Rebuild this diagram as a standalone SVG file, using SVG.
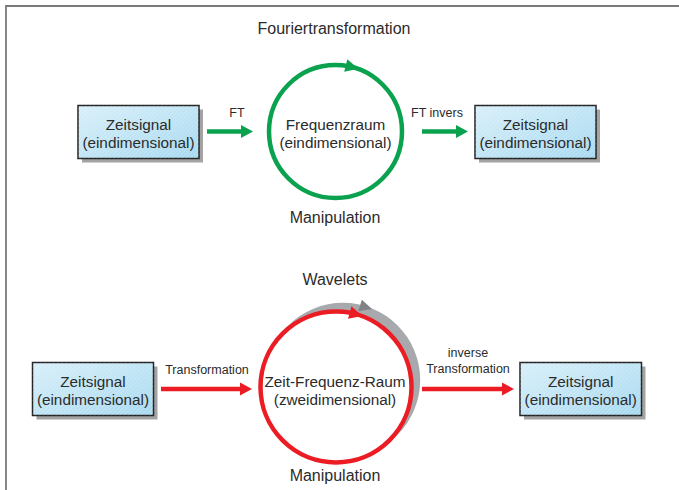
<svg xmlns="http://www.w3.org/2000/svg" width="679" height="490" viewBox="0 0 679 490">
  <style>
    text { font-family: "Liberation Sans", Arial, sans-serif; fill: #2b2b2b; text-anchor: middle; }
    .t16 { font-size: 16px; }
    .t15 { font-size: 15.3px; }
    .t12 { font-size: 12.5px; }
    .box { fill: url(#boxFill); stroke: #222; stroke-width: 1.5; }
    .shadow { fill: #a3a3a3; }
    .hatch { fill: url(#hatch); }
    .g { stroke: #0ba24f; stroke-width: 4.5; fill: none; }
    .r { stroke: #ec1c24; stroke-width: 4.5; fill: none; }
    .ring { fill: #ffffff; }
  </style>
  <defs>
    <linearGradient id="boxFill" x1="0" y1="0" x2="1" y2="1">
      <stop offset="0" stop-color="#d8eff9"/>
      <stop offset="1" stop-color="#a7d9f0"/>
    </linearGradient>
    <pattern id="hatch" width="3" height="3" patternUnits="userSpaceOnUse" patternTransform="rotate(45)">
      <rect width="1" height="3" fill="#ffffff" fill-opacity="0.18"/>
    </pattern>
    <marker id="ahG" markerUnits="userSpaceOnUse" markerWidth="14" markerHeight="14" refX="0" refY="0" viewBox="-1 -7 14 14" orient="auto" overflow="visible">
      <path d="M0,-6.5 L12,0 L0,6.5 z" fill="#0ba24f"/>
    </marker>
    <marker id="ahR" markerUnits="userSpaceOnUse" markerWidth="14" markerHeight="14" refX="0" refY="0" viewBox="-1 -7 14 14" orient="auto" overflow="visible">
      <path d="M0,-6.5 L12,0 L0,6.5 z" fill="#ec1c24"/>
    </marker>
  </defs>

  <rect width="679" height="490" fill="#ffffff"/>

  <g id="frame" stroke="#7a7a7a" stroke-width="1.8" fill="none">
    <path d="M6,490 V6 H679"/>
  </g>

  <g id="titles">
    <text class="t16" x="334" y="34">Fouriertransformation</text>
    <text class="t16" x="335" y="223">Manipulation</text>
    <text class="t16" x="335" y="285">Wavelets</text>
    <text class="t16" x="335" y="481">Manipulation</text>
  </g>

  <g id="connectors">
    <line class="g" x1="207" y1="131.5" x2="241" y2="131.5" marker-end="url(#ahG)"/>
    <line class="g" x1="422" y1="131.5" x2="456" y2="131.5" marker-end="url(#ahG)"/>
    <line class="r" x1="161" y1="389" x2="240" y2="389" marker-end="url(#ahR)"/>
    <line class="r" x1="422" y1="389" x2="502" y2="389" marker-end="url(#ahR)"/>
    <text class="t12" x="237" y="117">FT</text>
    <text class="t12" x="437" y="117">FT invers</text>
    <text class="t12" x="207" y="374">Transformation</text>
    <text class="t12" x="468" y="357">inverse</text>
    <text class="t12" x="468" y="373">Transformation</text>
  </g>

  <g id="node-zeitsignal-top-left">
    <rect class="shadow" x="82" y="109.5" width="121" height="53"/>
    <rect class="box" x="78" y="105.5" width="121" height="53"/>
    <rect class="hatch" x="78" y="105.5" width="121" height="53"/>
    <text class="t15" x="138.5" y="130">Zeitsignal</text>
    <text class="t15" x="138.5" y="148">(eindimensional)</text>
  </g>

  <g id="node-frequenzraum">
    <circle class="ring" cx="335.5" cy="131.5" r="66.5"/>
    <circle class="g" cx="335.5" cy="131.5" r="66.5"/>
    <polygon points="-6,-6.5 7,0 -6,6.5" fill="#0ba24f" transform="rotate(14 335.5 131.5) translate(335.5 65)"/>
    <text class="t15" x="335.5" y="130">Frequenzraum</text>
    <text class="t15" x="335.5" y="148">(eindimensional)</text>
  </g>

  <g id="node-zeitsignal-top-right">
    <rect class="shadow" x="479" y="109.5" width="121" height="53"/>
    <rect class="box" x="475" y="105.5" width="121" height="53"/>
    <rect class="hatch" x="475" y="105.5" width="121" height="53"/>
    <text class="t15" x="535.5" y="130">Zeitsignal</text>
    <text class="t15" x="535.5" y="148">(eindimensional)</text>
  </g>

  <g id="node-zeitsignal-bottom-left">
    <rect class="shadow" x="36.5" y="366.5" width="121" height="53"/>
    <rect class="box" x="32.5" y="362.5" width="121" height="53"/>
    <rect class="hatch" x="32.5" y="362.5" width="121" height="53"/>
    <text class="t15" x="93" y="387">Zeitsignal</text>
    <text class="t15" x="93" y="405">(eindimensional)</text>
  </g>

  <g id="node-zeit-frequenz-raum">
    <circle cx="343" cy="380" r="77.2" fill="#a7a9ac"/>
    <polygon points="358.1,311.2 361.9,299.8 372,309" fill="#808285"/>
    <circle class="ring" cx="336" cy="387" r="75.5"/>
    <circle class="r" cx="336" cy="387" r="75.5"/>
    <polygon points="-6,-6.5 7,0 -6,6.5" fill="#ec1c24" transform="rotate(15 336 387) translate(336 311.5)"/>
    <text class="t15" x="335" y="387">Zeit-Frequenz-Raum</text>
    <text class="t15" x="335" y="405">(zweidimensional)</text>
  </g>

  <g id="node-zeitsignal-bottom-right">
    <rect class="shadow" x="524" y="366.5" width="121.5" height="53"/>
    <rect class="box" x="520" y="362.5" width="121.5" height="53"/>
    <rect class="hatch" x="520" y="362.5" width="121.5" height="53"/>
    <text class="t15" x="580.7" y="387">Zeitsignal</text>
    <text class="t15" x="580.7" y="405">(eindimensional)</text>
  </g>
</svg>
